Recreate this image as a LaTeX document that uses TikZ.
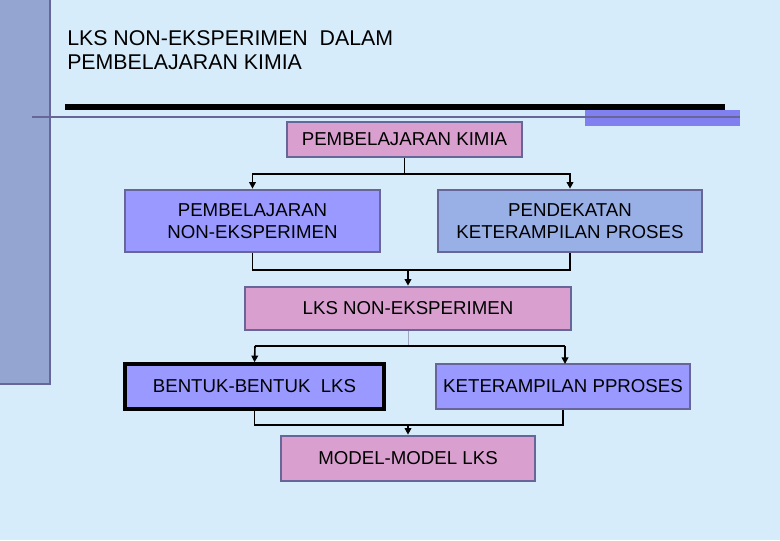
\documentclass[tikz,border=0pt]{standalone}
\usepackage{fontspec}
\setmainfont{Liberation Sans}
\usetikzlibrary{arrows.meta}
\definecolor{bgblue}{HTML}{D6ECFB}
\definecolor{barblue}{HTML}{95A5D2}
\definecolor{edgegray}{HTML}{666699}
\definecolor{pinkbox}{HTML}{D9A0CF}
\definecolor{violetbox}{HTML}{9999FF}
\definecolor{steelbox}{HTML}{99B0E6}
\definecolor{accent}{HTML}{8080F0}
\tikzset{
  stepbox/.style={draw=edgegray, line width=2pt, align=center, font=\fontsize{14}{17}\selectfont, inner sep=0pt},
  conn/.style={line width=1.2pt},
  arr/.style={line width=1.2pt, -{Triangle[length=5pt,width=5pt]}}
}
\begin{document}
\begin{tikzpicture}[x=0.75pt,y=-0.75pt]
        % Background
        \fill[bgblue] (0,0) rectangle (780,540);
        \useasboundingbox (0,0) rectangle (780,540);
        \fill[barblue] (0,0) rectangle (50,385);
        \draw[edgegray, line width=2pt] (0,384) -- (50,384) -- (50,0);
        \fill[black] (65,104) rectangle (725,110);
        \fill[accent] (585,110) rectangle (740,126);
        \draw[edgegray, line width=2.2pt] (32,117) -- (740,117);
        % Title
        \node (title) [anchor=north west, align=left, font=\fontsize{16}{18}\selectfont, inner sep=0pt] at (67,30) {LKS NON-EKSPERIMEN\ \ DALAM\\PEMBELAJARAN KIMIA};
        % Boxes
        \node (kimia) [stepbox, fill=pinkbox, minimum width=235*0.75pt, minimum height=35*0.75pt] at (404.5,139.5) {PEMBELAJARAN KIMIA};
        \node (nonexp) [stepbox, fill=violetbox, minimum width=255*0.75pt, minimum height=62*0.75pt] at (252.5,221) {PEMBELAJARAN\\NON-EKSPERIMEN};
        \node (kps) [stepbox, fill=steelbox, minimum width=264*0.75pt, minimum height=62*0.75pt] at (570,221) {PENDEKATAN\\KETERAMPILAN PROSES};
        \node (lks) [stepbox, fill=pinkbox, minimum width=326*0.75pt, minimum height=43*0.75pt] at (408,308.5) {LKS NON-EKSPERIMEN};
        \node (bentuk) [stepbox, draw=black, line width=2.6pt, fill=violetbox, minimum width=259*0.75pt, minimum height=45*0.75pt] at (254.5,386.5) {BENTUK-BENTUK\ \ LKS};
        \node (ketpp) [stepbox, fill=violetbox, minimum width=254*0.75pt, minimum height=45*0.75pt] at (563,386.5) {KETERAMPILAN PPROSES};
        \node (model) [stepbox, fill=pinkbox, minimum width=254*0.75pt, minimum height=45*0.75pt] at (408,458.5) {MODEL-MODEL LKS};
        % Connectors
        \coordinate (j1) at (404.5,174);
        \coordinate (j2) at (408,270);
        \coordinate (j3) at (408,346);
        \coordinate (j4) at (408,425);
        \draw[conn] (kimia.south) -- (j1);
        \draw[arr] (j1) -| (nonexp.north);
        \draw[arr] (j1) -| (kps.north);
        \draw[conn] (nonexp.south) |- (j2) -| (kps.south);
        \draw[arr] (j2) -- (lks.north);
        \draw[edgegray!60, line width=0.6pt] (lks.south) -- (j3);
        \draw[conn] (j3) -- (255,346);
        \draw[conn] (j3) -- (565,346);
        \draw[arr] (255,346) -- (bentuk.north);
        \draw[arr] (565,346) -- (565,364);
        \draw[conn] (bentuk.south) |- (j4) -| (ketpp.south);
        \draw[arr] (j4) -- (model.north);
\end{tikzpicture}
\end{document}
